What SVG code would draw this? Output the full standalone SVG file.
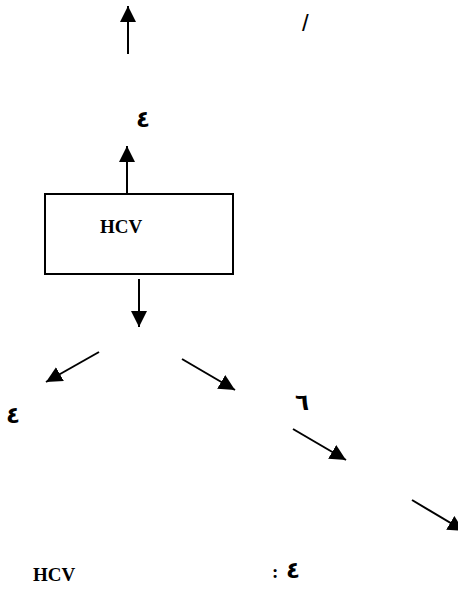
<svg xmlns="http://www.w3.org/2000/svg" width="458" height="589" viewBox="0 0 458 589">
<style>
.lbl{font-family:"Liberation Serif","Times New Roman",serif;font-weight:bold;font-size:19px;fill:#000}
.ar{font-family:"DejaVu Sans","Noto Sans",sans-serif;font-weight:bold;font-size:23px;fill:#000}
.ln{stroke:#000;stroke-width:2;fill:none}
.box{stroke:#000;stroke-width:2;fill:#fff}
</style>
<defs>
<marker id="ah" markerUnits="userSpaceOnUse" markerWidth="17" markerHeight="16" refX="16" refY="8" orient="auto" viewBox="0 0 17 16">
<path d="M0,0 L16,8 L0,16 z" fill="#000"/>
</marker>
</defs>
<g id="connectors">
<line class="ln" x1="128" y1="54" x2="128" y2="6" marker-end="url(#ah)"/>
<line class="ln" x1="127" y1="194" x2="127" y2="146" marker-end="url(#ah)"/>
<line class="ln" x1="139" y1="279" x2="139" y2="327" marker-end="url(#ah)"/>
<line class="ln" x1="99" y1="352" x2="46" y2="382" marker-end="url(#ah)"/>
<line class="ln" x1="182" y1="359" x2="235" y2="390" marker-end="url(#ah)"/>
<line class="ln" x1="293" y1="429" x2="346" y2="460" marker-end="url(#ah)"/>
<line class="ln" x1="412" y1="500" x2="464" y2="531" marker-end="url(#ah)"/>
</g>
<g id="slash"><text x="302" y="31" font-family="Liberation Sans, Arial, sans-serif" font-size="24">/</text></g>
<g id="label-top"><text class="ar" x="136" y="127">٤</text></g>
<g id="node-hcv">
<rect class="box" x="45" y="194" width="188" height="80"/>
<text class="lbl" x="100" y="233">HCV</text>
</g>
<g id="label-left"><text class="ar" x="6" y="423">٤</text></g>
<g id="label-six"><text class="ar" x="295" y="410">٦</text></g>
<g id="caption">
<text class="lbl" x="33" y="581">HCV</text>
<text class="lbl" x="272" y="578">:</text>
<text class="ar" x="286" y="578">٤</text>
</g>
</svg>
